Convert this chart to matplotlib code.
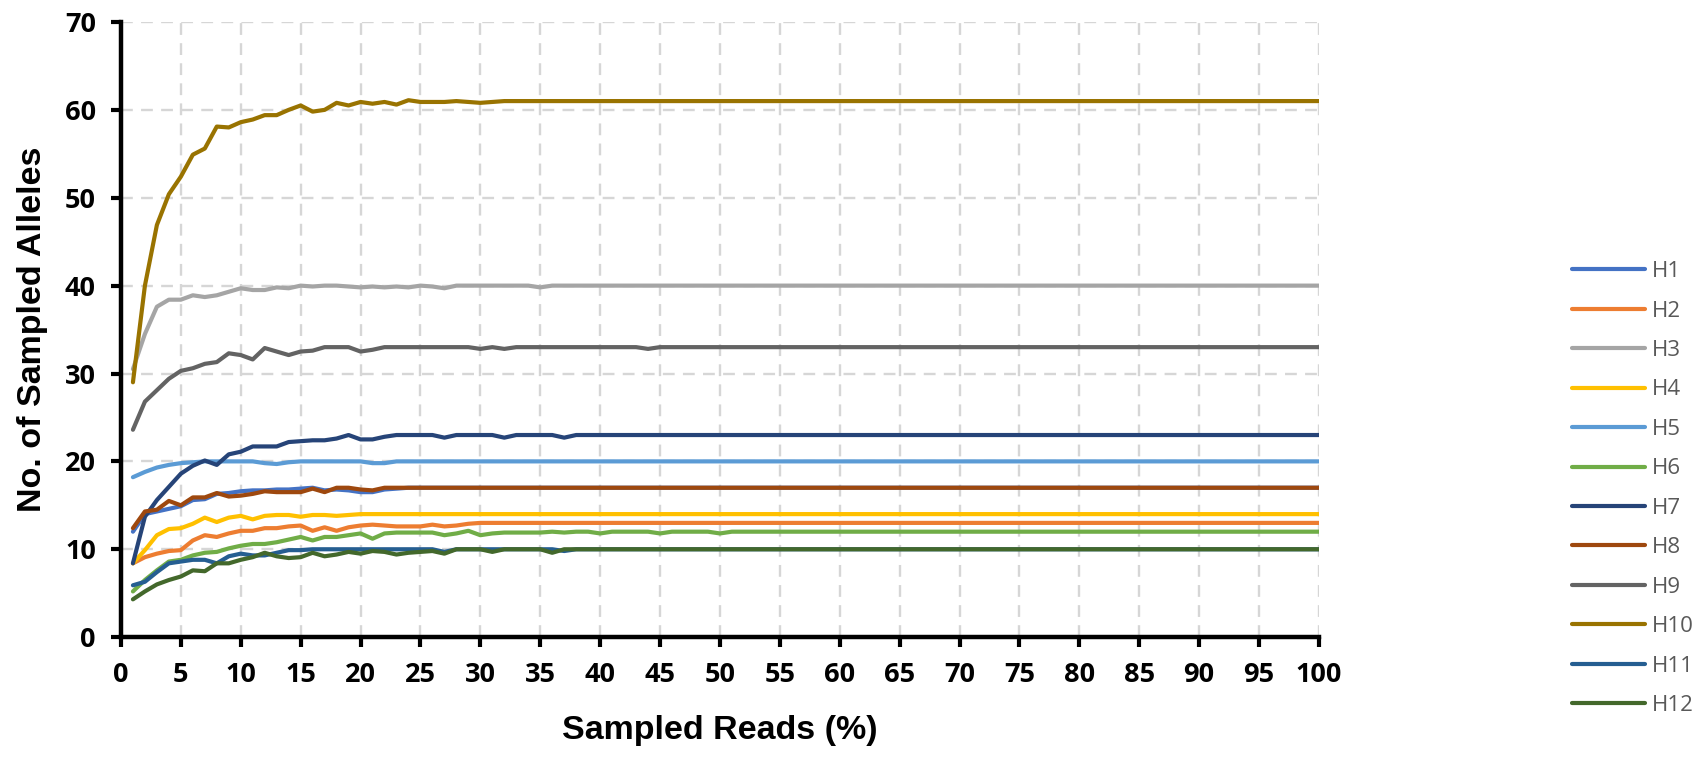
import matplotlib
matplotlib.use("Agg")
import matplotlib.pyplot as plt

N_POINTS = 100
reads_pct = list(range(1, N_POINTS + 1))

labels = ["H1", "H2", "H3", "H4", "H5", "H6",
          "H7", "H8", "H9", "H10", "H11", "H12"]
colors = ["#4472C4", "#ED7D31", "#A5A5A5", "#FFC000", "#5B9BD5", "#70AD47",
          "#264478", "#9E480E", "#636363", "#997300", "#255E91", "#43682B"]

# rarefaction values for the first sampled percentages; each curve then stays
# at its saturation level up to 100 %
h1_head = [12.0, 14.0, 14.3, 14.6, 14.9, 15.6, 15.7, 16.3, 16.4, 16.6,
           16.7, 16.7, 16.8, 16.8, 16.9, 17.0, 16.7, 16.8, 16.7, 16.5,
           16.5, 16.8, 16.9]
h2_head = [8.4, 9.1, 9.5, 9.8, 9.9, 11.0, 11.6, 11.4, 11.8, 12.1,
           12.1, 12.4, 12.4, 12.6, 12.7, 12.1, 12.5, 12.1, 12.5, 12.7,
           12.8, 12.7, 12.6, 12.6, 12.6, 12.8, 12.6, 12.7, 12.9]
h3_head = [30.5, 34.5, 37.6, 38.4, 38.4, 38.9, 38.7, 38.9, 39.3, 39.7,
           39.5, 39.5, 39.8, 39.7, 40.0, 39.9, 40.0, 40.0, 39.9, 39.8,
           39.9, 39.8, 39.9, 39.8, 40.0, 39.9, 39.7, 40.0, 40.0, 40.0,
           40.0, 40.0, 40.0, 40.0, 39.8]
h4_head = [8.4, 9.9, 11.6, 12.3, 12.4, 12.9, 13.6, 13.1, 13.6, 13.8,
           13.4, 13.8, 13.9, 13.9, 13.7, 13.9, 13.9, 13.8, 13.9, 14.0]
h5_head = [18.2, 18.8, 19.3, 19.6, 19.8, 19.9, 20.0, 20.0, 20.0, 20.0,
           20.0, 19.8, 19.7, 19.9, 20.0, 20.0, 20.0, 20.0, 20.0, 20.0,
           19.8, 19.8, 20.0]
h6_head = [5.2, 6.5, 7.6, 8.6, 8.8, 9.3, 9.6, 9.7, 10.1, 10.4,
           10.6, 10.6, 10.8, 11.1, 11.4, 11.0, 11.4, 11.4, 11.6, 11.8,
           11.2, 11.8, 11.9, 11.9, 11.9, 11.9, 11.6, 11.8, 12.1, 11.6,
           11.8, 11.9, 11.9, 11.9, 11.9, 12.0, 11.9, 12.0, 12.0, 11.8,
           12.0, 12.0, 12.0, 12.0, 11.8, 12.0, 12.0, 12.0, 12.0, 11.8]
h7_head = [8.4, 13.7, 15.6, 17.1, 18.6, 19.5, 20.1, 19.6, 20.8, 21.1,
           21.7, 21.7, 21.7, 22.2, 22.3, 22.4, 22.4, 22.6, 23.0, 22.5,
           22.5, 22.8, 23.0, 23.0, 23.0, 23.0, 22.7, 23.0, 23.0, 23.0,
           23.0, 22.7, 23.0, 23.0, 23.0, 23.0, 22.7]
h8_head = [12.4, 14.3, 14.5, 15.5, 15.0, 15.9, 15.9, 16.4, 16.0, 16.1,
           16.3, 16.6, 16.5, 16.5, 16.5, 16.9, 16.5, 17.0, 17.0, 16.8,
           16.7, 17.0]
h9_head = [23.6, 26.8, 28.1, 29.4, 30.3, 30.6, 31.1, 31.3, 32.3, 32.1,
           31.6, 32.9, 32.5, 32.1, 32.5, 32.6, 33.0, 33.0, 33.0, 32.5,
           32.7, 33.0, 33.0, 33.0, 33.0, 33.0, 33.0, 33.0, 33.0, 32.8,
           33.0, 32.8, 33.0, 33.0, 33.0, 33.0, 33.0, 33.0, 33.0, 33.0,
           33.0, 33.0, 33.0, 32.8]
h10_head = [29.0, 40.0, 46.9, 50.4, 52.4, 54.9, 55.6, 58.1, 58.0, 58.6,
            58.9, 59.4, 59.4, 60.0, 60.5, 59.8, 60.0, 60.8, 60.5, 60.9,
            60.7, 60.9, 60.6, 61.1, 60.9, 60.9, 60.9, 61.0, 60.9, 60.8,
            60.9]
h11_head = [5.9, 6.3, 7.4, 8.4, 8.6, 8.8, 8.8, 8.4, 9.2, 9.5,
            9.3, 9.3, 9.6, 9.9, 9.9, 10.0, 10.0, 10.0, 10.0, 10.0,
            10.0, 10.0, 10.0, 10.0, 10.0, 10.0, 9.7, 10.0, 10.0, 10.0,
            10.0, 10.0, 10.0, 10.0, 10.0, 10.0, 9.8]
h12_head = [4.3, 5.2, 6.0, 6.5, 6.9, 7.6, 7.5, 8.4, 8.4, 8.8,
            9.1, 9.6, 9.2, 9.0, 9.1, 9.6, 9.2, 9.4, 9.7, 9.5,
            9.8, 9.7, 9.4, 9.6, 9.7, 9.8, 9.5, 10.0, 10.0, 10.0,
            9.7, 10.0, 10.0, 10.0, 10.0, 9.6]

heads = [h1_head, h2_head, h3_head, h4_head, h5_head, h6_head,
         h7_head, h8_head, h9_head, h10_head, h11_head, h12_head]
plateaus = [17, 13, 40, 14, 20, 12, 23, 17, 33, 61, 10, 10]

TICK_FONT = "Open Sans"
TITLE_FONT = "Liberation Sans"

fig = plt.figure(figsize=(17.06, 7.77), dpi=100)
ax = fig.add_axes([0.0709, 0.180, 0.7022, 0.7917])

for head, level, label, color in zip(heads, plateaus, labels, colors):
    values = head + [float(level)] * (N_POINTS - len(head))
    ax.plot(reads_pct, values, color=color, lw=3.0, label=label,
            solid_joinstyle="round", solid_capstyle="round")

ax.set_xlim(0, 100)
ax.set_ylim(0, 70)
ax.set_xticks(range(0, 101, 5))
ax.set_yticks(range(0, 71, 10))

ax.grid(True, color="#D6D6D6", lw=1.7, linestyle=(0, (5, 3.5)))
ax.set_axisbelow(True)

for side in ("top", "right"):
    ax.spines[side].set_visible(False)
for side in ("left", "bottom"):
    ax.spines[side].set_linewidth(3.2)
    ax.spines[side].set_color("black")

ax.tick_params(axis="both", direction="out", length=7, width=3, color="black")
ax.tick_params(axis="x", pad=11)
ax.tick_params(axis="y", pad=11)
for lbl in ax.get_xticklabels() + ax.get_yticklabels():
    lbl.set_fontfamily(TICK_FONT)
    lbl.set_fontweight("bold")
    lbl.set_fontsize(19.5)

ax.set_xlabel("Sampled Reads (%)", fontfamily=TITLE_FONT, fontweight="bold",
              fontsize=24.5)
ax.set_ylabel("No. of Sampled Alleles", fontfamily=TITLE_FONT,
              fontweight="bold", fontsize=24.5)
ax.xaxis.set_label_coords(0.5, -0.151)
ax.yaxis.set_label_coords(-0.0735, 0.5)
ax.xaxis.label.set_va("center")
ax.yaxis.label.set_va("center")

leg = fig.legend(loc="upper left", bbox_to_anchor=(0.9215, 0.664),
                 frameon=False, borderpad=0, borderaxespad=0,
                 handlelength=3.3, handletextpad=0.3, labelspacing=0.83,
                 prop={"family": TICK_FONT, "size": 16})
for txt in leg.get_texts():
    txt.set_color("#595959")
for line in leg.get_lines():
    line.set_linewidth(3.0)

fig.savefig("out.png", dpi=100)
